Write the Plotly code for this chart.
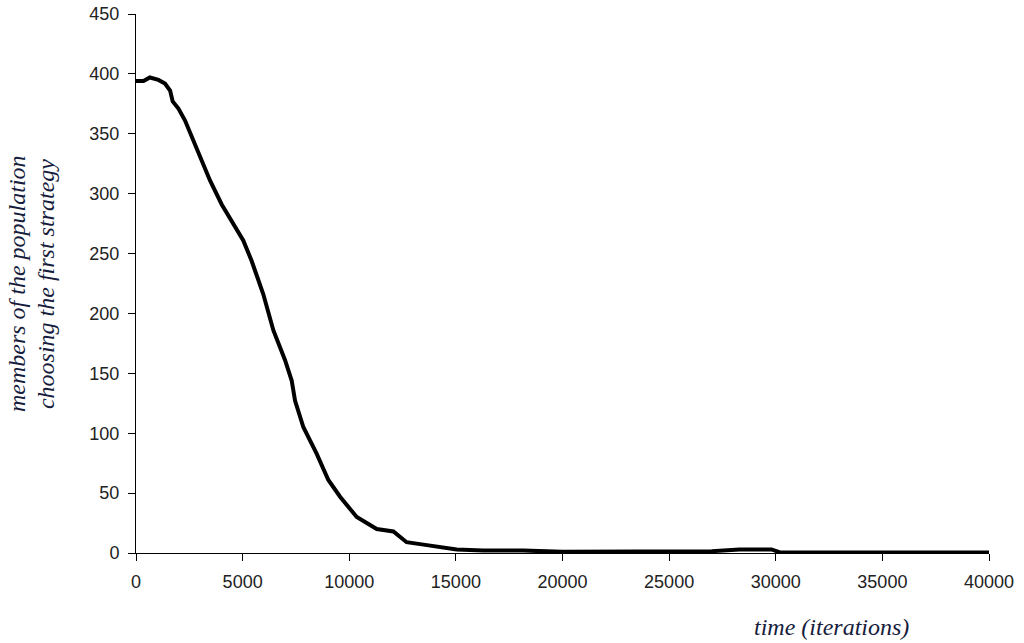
import plotly.graph_objects as go

# values
iterations = [0, 350, 650, 1050, 1360, 1600, 1720, 1990, 2300, 2690, 3080, 3470,
              4020, 4490, 5030, 5420, 5820, 5970, 6440, 6990, 7300, 7460, 7850,
              8470, 9020, 9570, 10350, 11290, 12070, 12380, 12690, 13480, 14260,
              15040, 16270, 18150, 20000, 22000, 24000, 26000, 27000, 28300,
              29800, 30200, 31500, 32000, 35000, 35200, 36500, 37800, 38200, 40000]
members = [394, 394, 397, 395, 392, 386, 377, 371, 361, 344, 329, 311,
           291, 277, 261, 244, 222, 216, 186, 161, 144, 127, 105,
           83, 61, 47, 30, 20, 18, 14, 9, 7, 5,
           3, 2, 2, 1, 1, 1, 1, 1.5, 3,
           3, 0.5, 0.5, 1, 1, 0.5, 0.5, 1, 0.5, 0.5]

x_ticks = [0, 5000, 10000, 15000, 20000, 25000, 30000, 35000, 40000]
y_ticks = [0, 50, 100, 150, 200, 250, 300, 350, 400, 450]

title_font = dict(family="Liberation Serif", size=24, color="#161c3c")
tick_font = dict(family="Liberation Sans", size=18, color="#222222")

fig = go.Figure()
fig.add_trace(go.Scatter(x=iterations, y=members, mode="lines",
                         line=dict(color="black", width=4), showlegend=False))

fig.update_xaxes(range=[0, 40000], tickvals=x_ticks, ticktext=[str(v) for v in x_ticks],
                 ticks="outside", ticklen=7, tickcolor="black", showline=True,
                 linecolor="black", linewidth=1, showgrid=False, zeroline=False,
                 tickfont=tick_font, automargin=False, ticklabelstandoff=5)
fig.update_yaxes(range=[0, 450], tickvals=y_ticks, ticktext=[str(v) for v in y_ticks],
                 ticks="outside", ticklen=7, tickcolor="black", showline=True,
                 linecolor="black", linewidth=1, showgrid=False, zeroline=False,
                 tickfont=tick_font, automargin=False, ticklabelstandoff=5)

fig.add_annotation(text="<i>time (iterations)</i>", xref="paper", yref="paper",
                   x=0.815, y=-0.137, showarrow=False, font=title_font,
                   xanchor="center", yanchor="middle")
fig.add_annotation(text="<i>members of the population</i>", xref="paper", yref="paper",
                   x=-0.1395, y=0.499, showarrow=False, textangle=-90, font=title_font,
                   xanchor="center", yanchor="middle")
fig.add_annotation(text="<i>choosing the first strategy</i>", xref="paper", yref="paper",
                   x=-0.1055, y=0.499, showarrow=False, textangle=-90, font=title_font,
                   xanchor="center", yanchor="middle")

fig.update_layout(width=1024, height=643, plot_bgcolor="white", paper_bgcolor="white",
                  margin=dict(l=136, r=35, t=14, b=90))

# drop the default page margin so the figure sits at the window's corner
fig.write_html("out.html", config={"displayModeBar": False},
               post_script="document.body.style.margin='0';")
